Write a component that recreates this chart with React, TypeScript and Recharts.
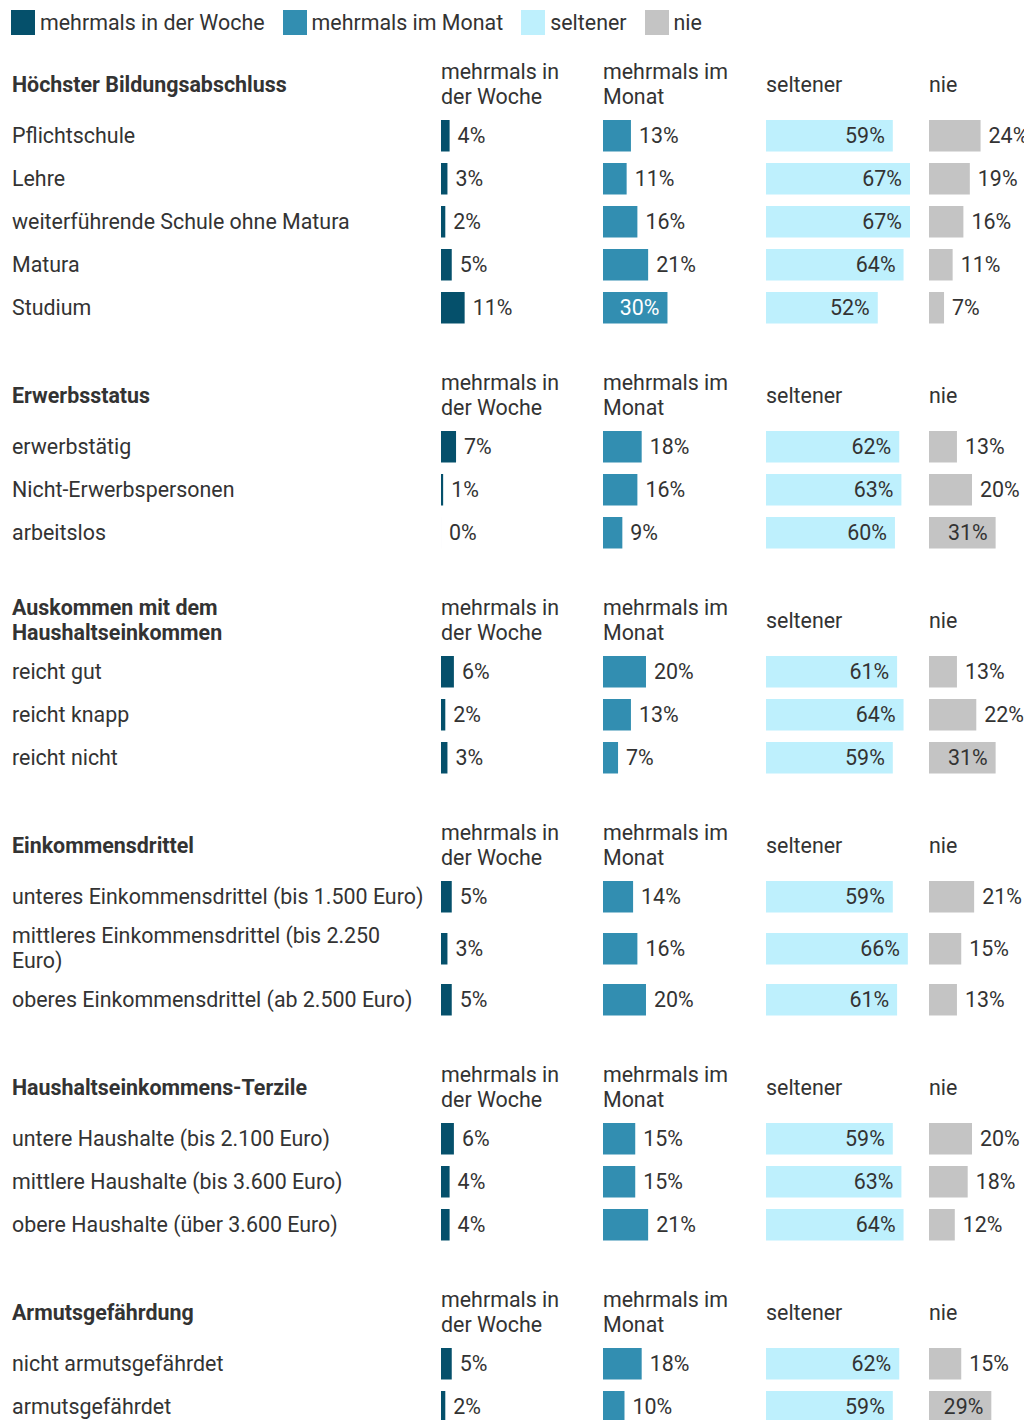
import React from "react";
import { BarChart, Bar, XAxis, YAxis, LabelList } from "recharts";

// ---- data ----
const seriesNames = ["mehrmals in der Woche", "mehrmals im Monat", "seltener", "nie"];
const seriesColors = ["#05506b", "#328eb1", "#bef0fd", "#c4c4c4"];
const insideLabelColors = ["#ffffff", "#ffffff", "#333333", "#333333"];

const groupTitles = [
  "Höchster Bildungsabschluss",
  "Erwerbsstatus",
  "Auskommen mit dem Haushaltseinkommen",
  "Einkommensdrittel",
  "Haushaltseinkommens-Terzile",
  "Armutsgefährdung",
];
const groupSizes = [5, 3, 3, 3, 3, 2];

const rowLabels = [
  "Pflichtschule",
  "Lehre",
  "weiterführende Schule ohne Matura",
  "Matura",
  "Studium",
  "erwerbstätig",
  "Nicht-Erwerbspersonen",
  "arbeitslos",
  "reicht gut",
  "reicht knapp",
  "reicht nicht",
  "unteres Einkommensdrittel (bis 1.500 Euro)",
  "mittleres Einkommensdrittel (bis 2.250 Euro)",
  "oberes Einkommensdrittel (ab 2.500 Euro)",
  "untere Haushalte (bis 2.100 Euro)",
  "mittlere Haushalte (bis 3.600 Euro)",
  "obere Haushalte (über 3.600 Euro)",
  "nicht armutsgefährdet",
  "armutsgefährdet",
];

const weekly = [4, 3, 2, 5, 11, 7, 1, 0, 6, 2, 3, 5, 3, 5, 6, 4, 4, 5, 2];
const monthly = [13, 11, 16, 21, 30, 18, 16, 9, 20, 13, 7, 14, 16, 20, 15, 15, 21, 18, 10];
const rarer = [59, 67, 67, 64, 52, 62, 63, 60, 61, 64, 59, 59, 66, 61, 59, 63, 64, 62, 59];
const never = [24, 19, 16, 11, 7, 13, 20, 31, 13, 22, 31, 21, 15, 13, 20, 18, 12, 15, 29];

const seriesValues = [weekly, monthly, rarer, never];
const MAXV = Math.max(...weekly, ...monthly, ...rarer, ...never);

// ---- layout constants ----
const TEXT = "#333333";
const FONT = "Roboto, sans-serif";
const FS = 21.4;
const LABEL_COL = 433;
const CELL_W = [162, 163, 163, 163];
const CHART_W = 163;
const ROW_H = 43;

function makeLabel(insideColor: string) {
  return (props: any) => {
    const vb = props.viewBox || {};
    const x = props.x ?? vb.x ?? 0;
    const y = props.y ?? vb.y ?? 0;
    const w = props.width ?? vb.width ?? 0;
    const h = props.height ?? vb.height ?? 0;
    const value = props.value;
    const inside = w > 55;
    const tx = inside ? x + w - 8 : x + w + 8;
    return (
      <text
        x={tx}
        y={y + h / 2 + 7.6}
        textAnchor={inside ? "end" : "start"}
        fill={inside ? insideColor : TEXT}
        fontSize={FS}
        fontFamily={FONT}
      >
        {value}%
      </text>
    );
  };
}

function CellChart({ value, label, si }: { value: number; label: string; si: number }) {
  const data = [{ k: label, v: value }];
  return (
    <BarChart
      width={CHART_W}
      height={ROW_H}
      data={data}
      layout="vertical"
      margin={{ top: 4, right: CHART_W - 144, bottom: 4, left: 0 }}
      barCategoryGap={0}
    >
      <XAxis type="number" domain={[0, MAXV]} hide />
      <YAxis type="category" dataKey="k" hide />
      <Bar dataKey="v" fill={seriesColors[si]} barSize={35} minPointSize={0.01} isAnimationActive={false}>
        <LabelList dataKey="v" content={makeLabel(insideLabelColors[si])} />
      </Bar>
    </BarChart>
  );
}

function Legend() {
  return (
    <div style={{ display: "flex", alignItems: "center", height: 28, marginBottom: 18, paddingLeft: 3 }}>
      {seriesNames.map((n, i) => (
        <div key={n} style={{ display: "flex", alignItems: "center", marginRight: 18 }}>
          <div style={{ width: 24, height: 25, background: seriesColors[i], marginRight: 5 }} />
          <span style={{ lineHeight: "25px" }}>{n}</span>
        </div>
      ))}
    </div>
  );
}

function Section({ gi, start }: { gi: number; start: number }) {
  const idx = Array.from({ length: groupSizes[gi] }, (_, k) => start + k);
  return (
    <div style={{ marginTop: gi === 0 ? 0 : 36 }}>
      <div style={{ display: "flex", alignItems: "center", minHeight: 60 }}>
        <div style={{ width: LABEL_COL, paddingLeft: 4, boxSizing: "border-box", flexShrink: 0 }}>
          <div style={{ width: 405, fontWeight: 700, lineHeight: "25px" }}>{groupTitles[gi]}</div>
        </div>
        {seriesNames.map((n, si) => (
          <div key={n} style={{ width: CELL_W[si], flexShrink: 0 }}>
            <div style={{ width: 140, lineHeight: "25px" }}>{n}</div>
          </div>
        ))}
      </div>
      {idx.map((ri) => (
        <div key={ri} style={{ display: "flex", alignItems: "center", minHeight: ROW_H }}>
          <div style={{ width: LABEL_COL, paddingLeft: 4, boxSizing: "border-box", flexShrink: 0 }}>
            <div style={{ width: 417, lineHeight: "25px", padding: "5px 0" }}>{rowLabels[ri]}</div>
          </div>
          {seriesValues.map((vals, si) => (
            <div key={si} style={{ width: CELL_W[si], height: ROW_H, flexShrink: 0 }}>
              <CellChart value={vals[ri]} label={rowLabels[ri]} si={si} />
            </div>
          ))}
        </div>
      ))}
    </div>
  );
}

export default function App() {
  const starts: number[] = [];
  let acc = 0;
  groupSizes.forEach((s) => {
    starts.push(acc);
    acc += s;
  });
  return (
    <div style={{ fontFamily: FONT, color: TEXT, fontSize: FS, width: 1016 }}>
      <style>{`html{overflow:hidden} .recharts-surface{overflow:visible} .recharts-wrapper{overflow:visible}`}</style>
      <Legend />
      {groupTitles.map((t, gi) => (
        <Section key={t} gi={gi} start={starts[gi]} />
      ))}
    </div>
  );
}
